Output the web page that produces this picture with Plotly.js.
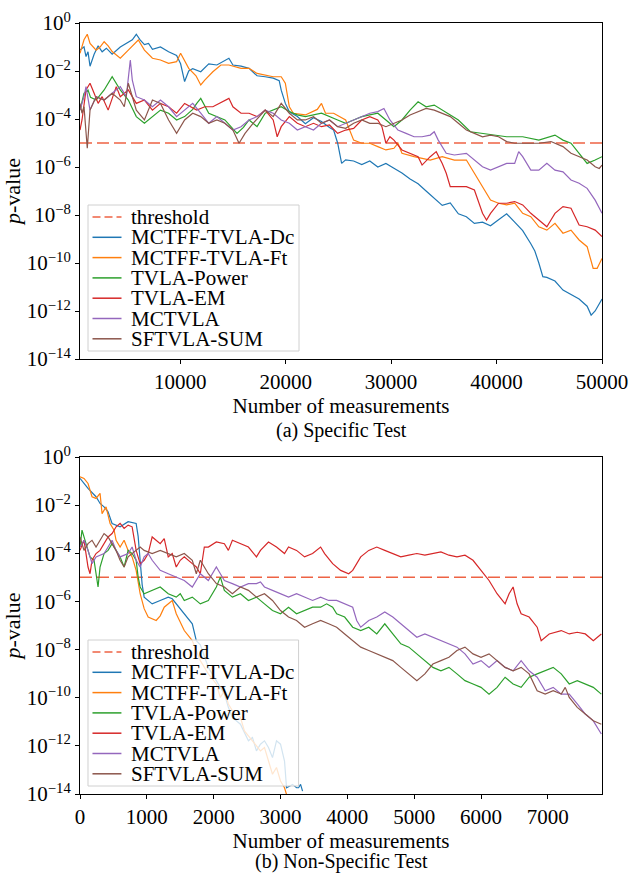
<!DOCTYPE html>
<html><head><meta charset="utf-8">
<script src="https://cdn.plot.ly/plotly-3.0.1.min.js"></script>
<style>html,body{margin:0;padding:0;background:#fff;}#chart{width:629px;height:874px;}</style>
</head><body><div id="chart"></div>
<script>
// ---------- DATA ----------
const seriesNames = ['MCTFF-TVLA-Dc','MCTFF-TVLA-Ft','TVLA-Power','TVLA-EM','MCTVLA','SFTVLA-SUM'];
const thresholdName = 'threshold';
const thresholdP = 1e-5;
const captions = ['(a) Specific Test','(b) Non-Specific Test'];
const xTitle = 'Number of measurements';
const yTitle = '<i>p</i>-value';
const yTickExps = [0,-2,-4,-6,-8,-10,-12,-14];
const topXTicks = [10000,20000,30000,40000,50000];
const bottomXTicks = [0,1000,2000,3000,4000,5000,6000,7000];
const topXRange = [500,50000];
const bottomXRange = [0,7810];

// pairs: [thousands of measurements, log10(p-value)]
const topDc = [[0.5,-1.13],[0.88,-0.99],[1.07,-1.4],[1.26,-1.2],[1.45,-1.8],[1.84,-1.3],[2.22,-0.95],[2.6,-1.2],[3.0,-1.05],[3.55,-1.3],[4.32,-1.0],[4.9,-0.85],[5.46,-0.7],[5.84,-0.47],[6.2,-0.7],[6.61,-0.9],[7.0,-0.85],[7.37,-1.1],[8.13,-1.0],[8.9,-1.2],[9.66,-1.35],[10.04,-1.7],[10.42,-2.44],[10.81,-2.0],[11.19,-1.9],[11.95,-2.03],[12.71,-1.7],[13.48,-1.75],[14.24,-1.55],[14.62,-1.47],[15.0,-1.75],[15.77,-1.8],[16.53,-1.89],[17.29,-2.2],[18.06,-2.24],[18.82,-2.3],[19.39,-2.4],[19.58,-2.8],[19.97,-3.35],[20.35,-3.7],[21.11,-3.9],[21.87,-4.2],[22.64,-3.95],[23.4,-4.1],[24.16,-4.35],[24.55,-4.46],[24.93,-5.0],[25.31,-5.85],[25.69,-5.7],[26.45,-5.75],[27.22,-5.9],[27.98,-5.75],[28.74,-6.0],[29.51,-5.85],[30.27,-6.05],[31.03,-6.25],[31.8,-6.5],[32.56,-6.7],[33.32,-7.0],[34.09,-7.3],[34.85,-7.6],[35.61,-7.5],[36.38,-7.95],[37.14,-8.07],[37.9,-8.35],[38.67,-8.3],[39.43,-8.45],[40.19,-8.2],[40.96,-7.95],[41.72,-8.3],[42.48,-8.65],[43.25,-9.2],[43.63,-9.5],[44.01,-10.0],[44.39,-10.57],[44.77,-10.6],[45.54,-10.75],[46.3,-11.13],[47.06,-11.3],[47.83,-11.5],[48.59,-11.8],[48.97,-12.17],[49.35,-12.0],[50.0,-11.5]];
const topFt = [[0.5,-1.26],[0.88,-0.7],[1.19,-0.47],[1.45,-0.85],[2.03,-1.13],[2.4,-1.0],[2.79,-0.78],[3.17,-0.95],[3.55,-1.19],[4.32,-1.47],[5.08,-1.13],[5.6,-0.9],[6.03,-0.71],[6.61,-1.13],[7.37,-1.47],[8.13,-1.54],[8.9,-1.68],[9.66,-1.61],[10.04,-1.26],[10.81,-1.89],[11.5,-2.2],[11.95,-2.58],[12.33,-2.38],[13.1,-2.03],[13.86,-1.75],[14.62,-1.75],[15.77,-1.89],[16.53,-1.89],[17.29,-2.1],[18.82,-2.24],[19.58,-2.24],[19.97,-2.51],[20.35,-3.49],[20.73,-3.76],[21.87,-3.83],[23.0,-3.6],[23.4,-3.35],[23.78,-3.76],[24.55,-3.76],[25.69,-4.04],[26.45,-4.88],[27.22,-5.01],[27.98,-5.01],[28.74,-5.15],[29.51,-5.29],[30.27,-5.22],[30.65,-5.01],[31.03,-5.43],[32.18,-5.57],[33.71,-5.71],[34.85,-5.57],[36.0,-5.71],[37.14,-5.71],[37.9,-6.26],[38.67,-6.82],[39.43,-7.38],[40.19,-7.51],[40.96,-7.58],[41.72,-7.51],[42.48,-7.93],[43.25,-8.07],[44.01,-8.49],[44.77,-8.63],[45.54,-8.35],[46.3,-8.76],[47.06,-8.63],[47.83,-9.04],[48.59,-9.32],[49.16,-10.22],[49.54,-10.22],[50.0,-9.81]];
const topPower = [[0.5,-3.63],[0.88,-2.93],[1.26,-2.79],[1.5,-3.1],[2.03,-3.21],[2.5,-2.95],[2.79,-2.79],[3.55,-2.24],[3.94,-2.51],[4.32,-2.79],[5.08,-3.21],[5.84,-3.9],[6.61,-4.18],[7.37,-3.9],[8.13,-3.63],[8.9,-3.76],[9.66,-4.04],[10.42,-3.9],[11.19,-3.6],[11.57,-3.35],[11.95,-3.14],[12.71,-3.76],[13.48,-3.9],[14.24,-4.04],[15.39,-4.6],[16.0,-4.35],[16.53,-4.04],[17.29,-4.32],[18.06,-3.76],[18.82,-3.63],[19.58,-3.49],[20.35,-3.69],[21.11,-3.83],[21.87,-3.9],[23.4,-3.76],[24.93,-4.04],[25.69,-4.18],[26.45,-4.04],[27.22,-3.9],[28.74,-3.76],[29.51,-4.04],[30.27,-4.32],[31.03,-4.04],[31.8,-3.63],[32.56,-3.28],[33.32,-3.49],[34.09,-3.42],[34.85,-3.63],[36.38,-4.04],[37.52,-4.53],[38.67,-4.6],[40.19,-4.67],[40.96,-4.74],[42.48,-4.74],[44.01,-4.88],[45.54,-4.67],[46.3,-4.88],[47.06,-5.01],[47.83,-5.43],[48.59,-5.85],[49.35,-5.71],[50.0,-5.57]];
const topEM = [[0.5,-4.46],[0.69,-4.04],[1.07,-2.79],[1.45,-2.51],[1.84,-2.93],[2.22,-3.35],[2.6,-3.07],[3.17,-3.63],[3.94,-2.65],[4.32,-3.07],[5.08,-2.79],[5.84,-3.35],[6.61,-3.21],[7.37,-3.63],[8.13,-3.35],[8.9,-3.49],[9.66,-3.76],[10.42,-3.35],[11.57,-3.63],[12.33,-3.49],[13.1,-3.49],[14.24,-3.21],[14.62,-3.14],[15.0,-3.49],[15.77,-3.76],[16.53,-3.76],[17.29,-3.9],[18.06,-3.63],[18.82,-4.04],[19.2,-4.74],[19.58,-4.32],[20.35,-3.9],[21.11,-4.18],[21.87,-4.32],[22.64,-4.18],[23.4,-4.32],[24.16,-4.25],[24.93,-4.6],[25.69,-4.46],[26.45,-4.39],[27.22,-4.04],[27.98,-3.9],[28.74,-4.04],[29.13,-4.32],[29.51,-5.01],[29.89,-4.74],[30.27,-4.88],[31.03,-5.29],[31.8,-5.43],[32.56,-5.57],[32.94,-5.92],[33.71,-5.57],[34.28,-5.36],[34.85,-5.85],[35.23,-6.26],[35.61,-6.82],[36.38,-6.82],[37.14,-6.82],[37.9,-6.96],[38.67,-7.93],[39.05,-8.21],[39.43,-7.93],[40.19,-7.51],[40.96,-7.51],[41.72,-7.44],[42.48,-7.58],[43.25,-7.93],[44.01,-8.21],[44.77,-8.49],[45.16,-8.21],[45.54,-7.93],[46.3,-7.65],[47.06,-7.72],[47.45,-8.07],[47.83,-8.42],[48.59,-8.49],[49.35,-8.63],[50.0,-8.9]];
const topMC = [[0.5,-3.63],[0.88,-3.07],[1.07,-2.65],[1.45,-3.63],[2.03,-3.07],[2.79,-3.21],[3.55,-2.93],[4.32,-2.65],[4.89,-3.07],[5.27,-1.54],[5.46,-2.38],[5.84,-3.07],[6.61,-3.21],[7.37,-3.49],[8.13,-3.21],[8.9,-3.49],[9.66,-3.9],[10.42,-3.63],[11.19,-3.35],[11.95,-3.76],[12.71,-4.18],[13.48,-3.9],[14.24,-4.18],[15.0,-4.46],[15.77,-4.32],[16.53,-4.04],[17.29,-3.9],[18.06,-3.63],[18.82,-3.76],[19.58,-4.04],[20.35,-4.18],[21.11,-4.46],[21.87,-4.32],[22.64,-4.46],[23.4,-4.18],[24.16,-4.04],[24.93,-4.32],[25.69,-4.18],[26.45,-4.04],[27.22,-3.9],[27.98,-3.76],[28.74,-3.69],[29.32,-3.56],[29.89,-4.04],[30.65,-4.46],[31.42,-4.6],[32.18,-4.74],[32.94,-4.74],[33.71,-4.67],[34.09,-4.53],[34.47,-4.88],[35.23,-5.43],[36.0,-5.5],[37.14,-5.43],[37.9,-5.71],[38.67,-5.99],[39.43,-6.13],[40.19,-5.99],[40.96,-5.85],[41.72,-5.85],[42.1,-5.36],[42.48,-5.57],[43.25,-6.13],[44.01,-6.13],[44.77,-5.85],[45.54,-6.13],[46.3,-6.2],[47.06,-6.54],[47.83,-6.68],[48.59,-6.89],[49.35,-7.38],[50.0,-7.93]];
const topSum = [[0.5,-3.35],[0.69,-3.76],[0.88,-3.49],[1.19,-5.22],[1.45,-3.63],[2.03,-3.07],[2.79,-3.21],[3.55,-2.93],[4.32,-3.21],[4.7,-3.49],[5.08,-2.51],[5.46,-3.07],[5.84,-3.63],[6.61,-4.04],[7.37,-3.21],[8.13,-3.35],[8.9,-4.04],[9.66,-4.6],[10.42,-4.04],[11.19,-3.76],[11.95,-3.9],[12.71,-4.18],[13.48,-4.04],[14.24,-4.18],[15.0,-4.46],[15.58,-5.01],[16.15,-4.6],[16.91,-4.18],[18.06,-3.63],[18.82,-3.9],[19.58,-3.35],[20.35,-3.76],[21.11,-4.04],[21.87,-4.04],[22.64,-3.9],[23.4,-4.18],[24.16,-4.04],[24.93,-4.32],[25.69,-4.39],[26.45,-4.18],[27.22,-4.04],[27.98,-4.18],[28.74,-4.18],[29.51,-4.32],[30.27,-4.18],[31.03,-4.04],[31.8,-3.83],[32.56,-3.69],[33.32,-3.56],[34.09,-3.63],[34.85,-3.76],[35.61,-3.9],[36.38,-4.18],[37.14,-4.46],[37.9,-4.6],[38.67,-4.74],[39.43,-4.67],[40.19,-4.74],[40.96,-4.94],[41.72,-5.01],[42.48,-5.01],[43.25,-5.01],[44.01,-5.01],[45.16,-4.94],[46.3,-5.15],[47.06,-5.43],[47.83,-5.57],[48.59,-5.71],[49.35,-5.99],[49.74,-6.06],[50.0,-5.92]];

const botDc = [[0,-0.89],[0.12,-1.3],[0.24,-1.65],[0.3,-1.93],[0.36,-2.07],[0.42,-2.28],[0.48,-2.76],[0.6,-2.9],[0.72,-2.69],[0.84,-2.76],[0.87,-3.3],[0.9,-4.4],[0.93,-5.3],[0.96,-5.82],[1.08,-6.1],[1.2,-5.96],[1.32,-5.82],[1.38,-5.89],[1.44,-6.1],[1.56,-6.51],[1.68,-6.93],[1.74,-7.63],[1.8,-7.8],[1.92,-8.74],[2.04,-9.29],[2.16,-9.85],[2.22,-10.4],[2.28,-10.82],[2.4,-11.1],[2.52,-11.79],[2.58,-11.65],[2.64,-12.21],[2.7,-11.93],[2.76,-11.79],[2.82,-12.07],[2.88,-12.49],[2.94,-11.79],[3.0,-11.93],[3.06,-12.63],[3.09,-13.74],[3.18,-13.6],[3.24,-13.74],[3.27,-13.74],[3.3,-13.6],[3.33,-13.88]];
const botFt = [[0,-0.82],[0.06,-0.89],[0.12,-1.1],[0.18,-1.65],[0.24,-1.72],[0.3,-1.51],[0.33,-2.35],[0.39,-2.07],[0.45,-2.76],[0.51,-3.04],[0.54,-3.46],[0.6,-3.74],[0.66,-3.46],[0.72,-3.88],[0.78,-4.15],[0.84,-4.71],[0.9,-5.68],[0.96,-6.3],[1.02,-6.65],[1.14,-6.79],[1.2,-6.6],[1.26,-6.24],[1.38,-5.96],[1.44,-6.51],[1.56,-7.21],[1.68,-7.63],[1.74,-8.04],[1.8,-8.46],[1.92,-9.01],[2.04,-9.43],[2.1,-9.99],[2.16,-9.71],[2.22,-10.26],[2.28,-10.54],[2.4,-10.82],[2.46,-11.38],[2.58,-11.79],[2.7,-12.21],[2.76,-12.07],[2.82,-12.63],[2.88,-13.18],[2.94,-12.9],[3.0,-13.46],[3.06,-13.74],[3.12,-14.3]];
const botPower = [[0,-3.74],[0.03,-3.04],[0.09,-3.6],[0.15,-4.15],[0.21,-4.29],[0.27,-5.4],[0.3,-4.57],[0.36,-4.01],[0.42,-3.88],[0.48,-3.6],[0.54,-3.88],[0.6,-4.15],[0.66,-4.57],[0.72,-3.88],[0.78,-4.01],[0.84,-4.29],[0.87,-4.99],[0.9,-5.4],[0.96,-5.68],[1.08,-5.54],[1.2,-5.4],[1.32,-5.68],[1.44,-5.82],[1.5,-5.68],[1.56,-5.96],[1.68,-5.82],[1.8,-6.1],[1.92,-5.96],[2.04,-5.4],[2.1,-4.99],[2.16,-5.54],[2.28,-5.82],[2.4,-5.68],[2.52,-5.96],[2.64,-5.82],[2.76,-6.1],[2.88,-6.38],[3.0,-6.51],[3.12,-6.24],[3.24,-6.51],[3.36,-6.38],[3.48,-6.24],[3.6,-6.24],[3.69,-6.1],[3.78,-6.24],[3.84,-6.51],[3.96,-6.65],[4.08,-7.07],[4.2,-7.21],[4.32,-7.07],[4.44,-7.35],[4.56,-6.93],[4.68,-7.35],[4.8,-7.76],[4.92,-7.9],[5.04,-8.18],[5.16,-8.46],[5.28,-8.74],[5.4,-8.88],[5.52,-8.74],[5.64,-9.01],[5.76,-9.29],[5.88,-9.43],[6.0,-9.57],[6.12,-9.85],[6.24,-9.57],[6.36,-9.15],[6.48,-9.43],[6.6,-9.57],[6.72,-9.15],[6.84,-9.01],[6.96,-8.88],[7.08,-8.74],[7.2,-9.01],[7.32,-9.43],[7.44,-9.29],[7.56,-9.43],[7.68,-9.57],[7.8,-9.85]];
const botEM = [[0,-3.88],[0.06,-3.46],[0.12,-4.57],[0.15,-4.85],[0.18,-4.29],[0.24,-4.01],[0.3,-3.88],[0.36,-3.6],[0.42,-3.32],[0.48,-3.18],[0.54,-2.9],[0.6,-2.76],[0.66,-2.97],[0.72,-2.83],[0.78,-2.9],[0.84,-3.88],[0.9,-4.43],[0.96,-4.29],[1.02,-4.01],[1.08,-3.32],[1.14,-3.46],[1.2,-3.6],[1.26,-3.39],[1.32,-4.15],[1.38,-4.01],[1.44,-4.57],[1.5,-4.29],[1.56,-4.15],[1.68,-4.43],[1.74,-4.57],[1.8,-4.85],[1.83,-4.29],[1.86,-3.74],[1.92,-3.74],[2.04,-3.53],[2.16,-3.6],[2.22,-3.88],[2.28,-3.46],[2.4,-3.6],[2.52,-3.74],[2.64,-4.15],[2.7,-3.88],[2.82,-3.53],[2.94,-3.74],[3.06,-4.01],[3.12,-3.74],[3.24,-3.88],[3.36,-4.15],[3.48,-4.01],[3.54,-3.88],[3.6,-3.74],[3.66,-4.01],[3.78,-4.43],[3.9,-4.71],[4.02,-4.85],[4.08,-4.71],[4.14,-4.43],[4.2,-4.15],[4.32,-3.88],[4.44,-3.74],[4.56,-3.88],[4.68,-4.01],[4.8,-4.15],[4.92,-4.08],[5.04,-4.01],[5.16,-4.08],[5.28,-4.01],[5.4,-3.94],[5.52,-4.08],[5.64,-4.15],[5.76,-4.08],[5.88,-4.29],[6.0,-4.71],[6.12,-5.13],[6.24,-5.68],[6.36,-6.1],[6.42,-5.68],[6.48,-5.4],[6.54,-6.1],[6.6,-6.51],[6.72,-6.65],[6.84,-7.07],[6.9,-7.63],[7.02,-7.35],[7.2,-7.21],[7.32,-7.35],[7.44,-7.28],[7.56,-7.35],[7.68,-7.63],[7.8,-7.35]];
const botMC = [[0,-3.74],[0.06,-3.46],[0.12,-3.88],[0.18,-4.43],[0.24,-4.15],[0.36,-4.01],[0.42,-3.74],[0.48,-3.46],[0.54,-3.88],[0.6,-4.15],[0.72,-4.01],[0.78,-3.74],[0.84,-4.29],[0.9,-4.57],[0.96,-4.15],[1.02,-4.01],[1.08,-4.29],[1.2,-4.71],[1.32,-4.85],[1.44,-4.99],[1.56,-5.13],[1.68,-5.4],[1.8,-4.85],[1.92,-5.13],[2.04,-4.57],[2.1,-4.85],[2.16,-5.13],[2.28,-5.26],[2.4,-5.4],[2.52,-5.26],[2.64,-5.26],[2.7,-5.19],[2.76,-5.4],[2.88,-5.54],[3.0,-5.68],[3.12,-5.82],[3.24,-5.68],[3.36,-5.82],[3.48,-5.96],[3.6,-5.82],[3.72,-5.96],[3.84,-5.96],[3.96,-6.1],[4.08,-6.24],[4.14,-6.79],[4.2,-7.07],[4.32,-6.79],[4.44,-6.65],[4.56,-6.44],[4.68,-6.65],[4.8,-6.93],[4.92,-7.21],[5.04,-7.49],[5.16,-7.35],[5.28,-7.49],[5.4,-7.63],[5.52,-7.76],[5.64,-7.9],[5.76,-8.18],[5.88,-8.6],[6.0,-8.46],[6.12,-8.74],[6.24,-8.46],[6.36,-8.74],[6.48,-8.88],[6.6,-8.46],[6.72,-8.88],[6.84,-9.15],[6.96,-9.71],[7.08,-9.57],[7.2,-9.85],[7.32,-9.85],[7.44,-10.26],[7.56,-10.68],[7.68,-10.96],[7.74,-11.24],[7.8,-11.51]];
const botSum = [[0,-3.32],[0.06,-3.88],[0.12,-3.6],[0.18,-3.46],[0.24,-3.74],[0.3,-3.46],[0.36,-3.18],[0.42,-3.32],[0.48,-3.6],[0.54,-3.88],[0.6,-4.29],[0.66,-4.57],[0.72,-4.15],[0.84,-3.88],[0.9,-3.74],[0.96,-3.88],[1.08,-4.01],[1.2,-3.88],[1.32,-4.01],[1.44,-4.15],[1.56,-4.01],[1.68,-4.29],[1.74,-4.85],[1.8,-4.29],[1.86,-4.57],[1.92,-4.85],[2.04,-5.26],[2.16,-5.4],[2.28,-5.68],[2.4,-5.4],[2.52,-5.54],[2.64,-5.82],[2.76,-5.68],[2.88,-5.96],[3.0,-6.38],[3.12,-6.65],[3.24,-6.79],[3.36,-7.07],[3.48,-6.93],[3.6,-6.79],[3.72,-6.93],[3.84,-7.07],[3.96,-7.35],[4.08,-7.63],[4.2,-7.9],[4.32,-8.04],[4.44,-8.18],[4.56,-8.32],[4.68,-8.46],[4.8,-8.74],[4.92,-9.01],[5.04,-9.29],[5.16,-9.01],[5.28,-8.6],[5.4,-8.46],[5.52,-8.32],[5.64,-8.04],[5.76,-7.9],[5.88,-8.18],[6.0,-8.32],[6.12,-8.18],[6.24,-8.46],[6.36,-8.74],[6.48,-8.88],[6.6,-8.74],[6.72,-9.01],[6.84,-9.71],[6.96,-9.85],[7.08,-9.71],[7.2,-9.85],[7.26,-9.57],[7.32,-9.99],[7.44,-10.4],[7.56,-10.68],[7.68,-10.96],[7.8,-11.1]];

const topSeries = [topDc, topFt, topPower, topEM, topMC, topSum];
const botSeries = [botDc, botFt, botPower, botEM, botMC, botSum];

// ---------- STYLE ----------
const colors = ['#1f77b4','#ff7f0e','#2ca02c','#d62728','#9467bd','#8c564b'];
const thrColor = '#EE6344';
const thrDash = '12px,5px';
const fam = '"Liberation Serif", "Times New Roman", Times, serif';
const W = 629, H = 874;
const M = {l:80, r:27, t:23, b:80};
const panels = [
  {x0:80, x1:602, y0:23, y1:359, xa:'x', ya:'y', range: topXRange, series: topSeries, caption: captions[0], capY: 430},
  {x0:80, x1:603, y0:457, y1:794, xa:'x2', ya:'y2', range: bottomXRange, series: botSeries, caption: captions[1], capY: 862}
];

const traces = [];
const shapes = [];
const annotations = [];
const plotH = H - M.t - M.b;

panels.forEach((p, pi) => {
  traces.push({x: p.range.slice(), y: [thresholdP, thresholdP], mode:'lines', xaxis:p.xa, yaxis:p.ya,
    line:{color:thrColor, width:1.5, dash:thrDash}, showlegend:false, name:thresholdName, hoverinfo:'skip'});
  p.series.forEach((s, i) => {
    traces.push({x: s.map(d => d[0]*1000), y: s.map(d => Math.pow(10, d[1])), mode:'lines',
      xaxis:p.xa, yaxis:p.ya, line:{color:colors[i], width:1.2}, showlegend:false, name:seriesNames[i]});
  });
  // manual legend (matplotlib-style), positions in pixels relative to the axes box
  const xr = p.xa + ' domain', yr = p.ya + ' domain';
  const fx = px => (px - p.x0) / (p.x1 - p.x0);
  const fy = py => (p.y1 - py) / (p.y1 - p.y0);
  const boxL = p.x0 + 8, boxR = p.x0 + 219, boxB = p.y1 - 8, boxT = boxB - 146;
  shapes.push({type:'rect', xref:xr, yref:yr, x0:fx(boxL), x1:fx(boxR), y0:fy(boxB), y1:fy(boxT),
    fillcolor:'rgba(255,255,255,0.8)', line:{color:'#d0d0d0', width:1}, layer:'above'});
  const labels = [thresholdName].concat(seriesNames);
  const lcols = [thrColor].concat(colors);
  labels.forEach((lab, k) => {
    const ry = boxT + 12 + k * 20.3;
    shapes.push({type:'line', xref:xr, yref:yr, x0:fx(p.x0+12.5), x1:fx(p.x0+41.5), y0:fy(ry), y1:fy(ry),
      line:{color:lcols[k], width:1.5, dash: k===0 ? '8px,4px' : 'solid'}, layer:'above'});
    annotations.push({xref:xr, yref:yr, x:fx(p.x0+49), y:fy(ry), text:lab, showarrow:false,
      xanchor:'left', yanchor:'middle', font:{family:fam, size:21, color:'#000'}});
  });
  annotations.push({xref:'paper', yref:'paper', x:0.5, y:(H - M.b - p.capY)/plotH, text:p.caption,
    showarrow:false, xanchor:'center', yanchor:'middle', font:{family:fam, size:20, color:'#000'}});
});

const tickText = yTickExps.map(e => '10<sup>' + (e < 0 ? '\u2212' + (-e) : String(e)) + '</sup>');
const axBase = {showline:true, mirror:true, linecolor:'#000', linewidth:1, ticks:'outside', ticklen:4,
  tickwidth:1, tickcolor:'#000', showgrid:false, zeroline:false, tickfont:{family:fam, size:21, color:'#000'}};
const xTitleObj = {text:xTitle, font:{family:fam, size:21, color:'#000'}, standoff:0};
const yAx = (dom, anchor) => Object.assign({}, axBase, {type:'log', range:[-14,0], domain:dom, anchor:anchor,
  tickvals: yTickExps.map(e => Math.pow(10, e)), ticktext: tickText,
  title:{text:yTitle, font:{family:fam, size:22, color:'#000'}, standoff:6}});

const layout = {
  width:W, height:H, margin:M, paper_bgcolor:'#fff', plot_bgcolor:'#fff', showlegend:false,
  font:{family:fam, color:'#000'},
  xaxis: Object.assign({}, axBase, {domain:[0,1], anchor:'y', range:topXRange, tickvals:topXTicks,
    ticktext: topXTicks.map(String), title: xTitleObj}),
  yaxis: yAx([(H - M.b - 359)/plotH, 1], 'x'),
  xaxis2: Object.assign({}, axBase, {domain:[0,1], anchor:'y2', range:bottomXRange, tickvals:bottomXTicks,
    ticktext: bottomXTicks.map(String), title: xTitleObj}),
  yaxis2: yAx([0, (H - M.b - 457)/plotH], 'x2'),
  shapes: shapes, annotations: annotations
};

Plotly.newPlot('chart', traces, layout, {displayModeBar:false, staticPlot:true});
</script>
</body></html>
